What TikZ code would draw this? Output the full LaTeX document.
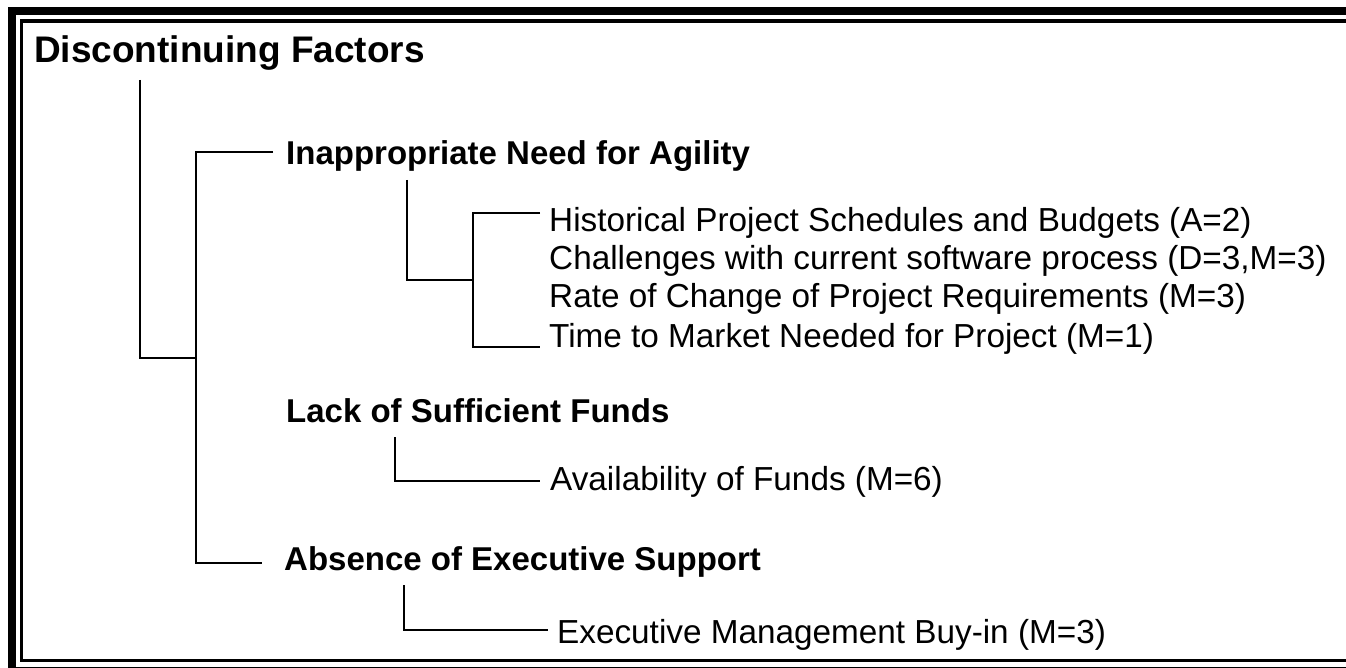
\documentclass[tikz,border=0pt]{standalone}
\usepackage{fontspec}
\setmainfont{Liberation Sans}

\tikzset{
  branch/.style={line width=2pt},
  factor/.style={anchor=base west, inner sep=0pt, font=\bfseries\fontsize{33}{40}\selectfont},
  leaf/.style={anchor=base west, inner sep=0pt, font=\fontsize{33.3}{40}\selectfont}
}

\begin{document}
\begin{tikzpicture}[x=1pt,y=-1pt]
    \useasboundingbox (0,0) rectangle (1346,668);
    % frame
    \draw[line width=8pt] (12,11) rectangle (1358,671);
    \draw[line width=3.3pt] (21.5,21) rectangle (1349,660.5);
    \def\lx{549}
    \node[factor, font=\bfseries\fontsize{37}{44}\selectfont] (title) at (34,63) {Discontinuing Factors};
    \node[factor] (inapp) at (286,165) {Inappropriate Need for Agility};
    \node[factor] (lack) at (286,422) {Lack of Sufficient Funds};
    \node[factor] (absence) at (284,570) {Absence of Executive Support};
    \foreach \n/\y/\txt in {hist/232/{Historical Project Schedules and Budgets (A=2)},
                            chall/270/{Challenges with current software process (D=3,M=3)},
                            rate/308/{Rate of Change of Project Requirements (M=3)},
                            time/347/{Time to Market Needed for Project (M=1)}}
      \node[leaf] (\n) at (\lx,\y) {\txt};
    \node[leaf] (avail) at (550,490) {Availability of Funds (M=6)};
    \node[leaf] (exec) at (557,643) {Executive Management Buy-in (M=3)};
    \coordinate (rj) at (196,358);
    \coordinate (ij) at (473,280);
    \draw[branch] ([shift={(106pt,-17pt)}]title.base west) |- (rj);
    \draw[branch] ([shift={(-13pt,13pt)}]inapp.base west) -| (rj) |- ([shift={(-22pt,7pt)}]absence.base west);
    \draw[branch] ([shift={(121pt,-15pt)}]inapp.base west) |- (ij);
    \draw[branch] ([shift={(-9pt,19pt)}]hist.base west) -| (ij) |- ([shift={(-9pt,0pt)}]time.base west);
    \draw[branch] ([shift={(109pt,-15pt)}]lack.base west) |- ([shift={(-10pt,9pt)}]avail.base west);
    \draw[branch] ([shift={(120pt,-15pt)}]absence.base west) |- ([shift={(-9pt,13pt)}]exec.base west);
  \end{tikzpicture}
\end{document}
